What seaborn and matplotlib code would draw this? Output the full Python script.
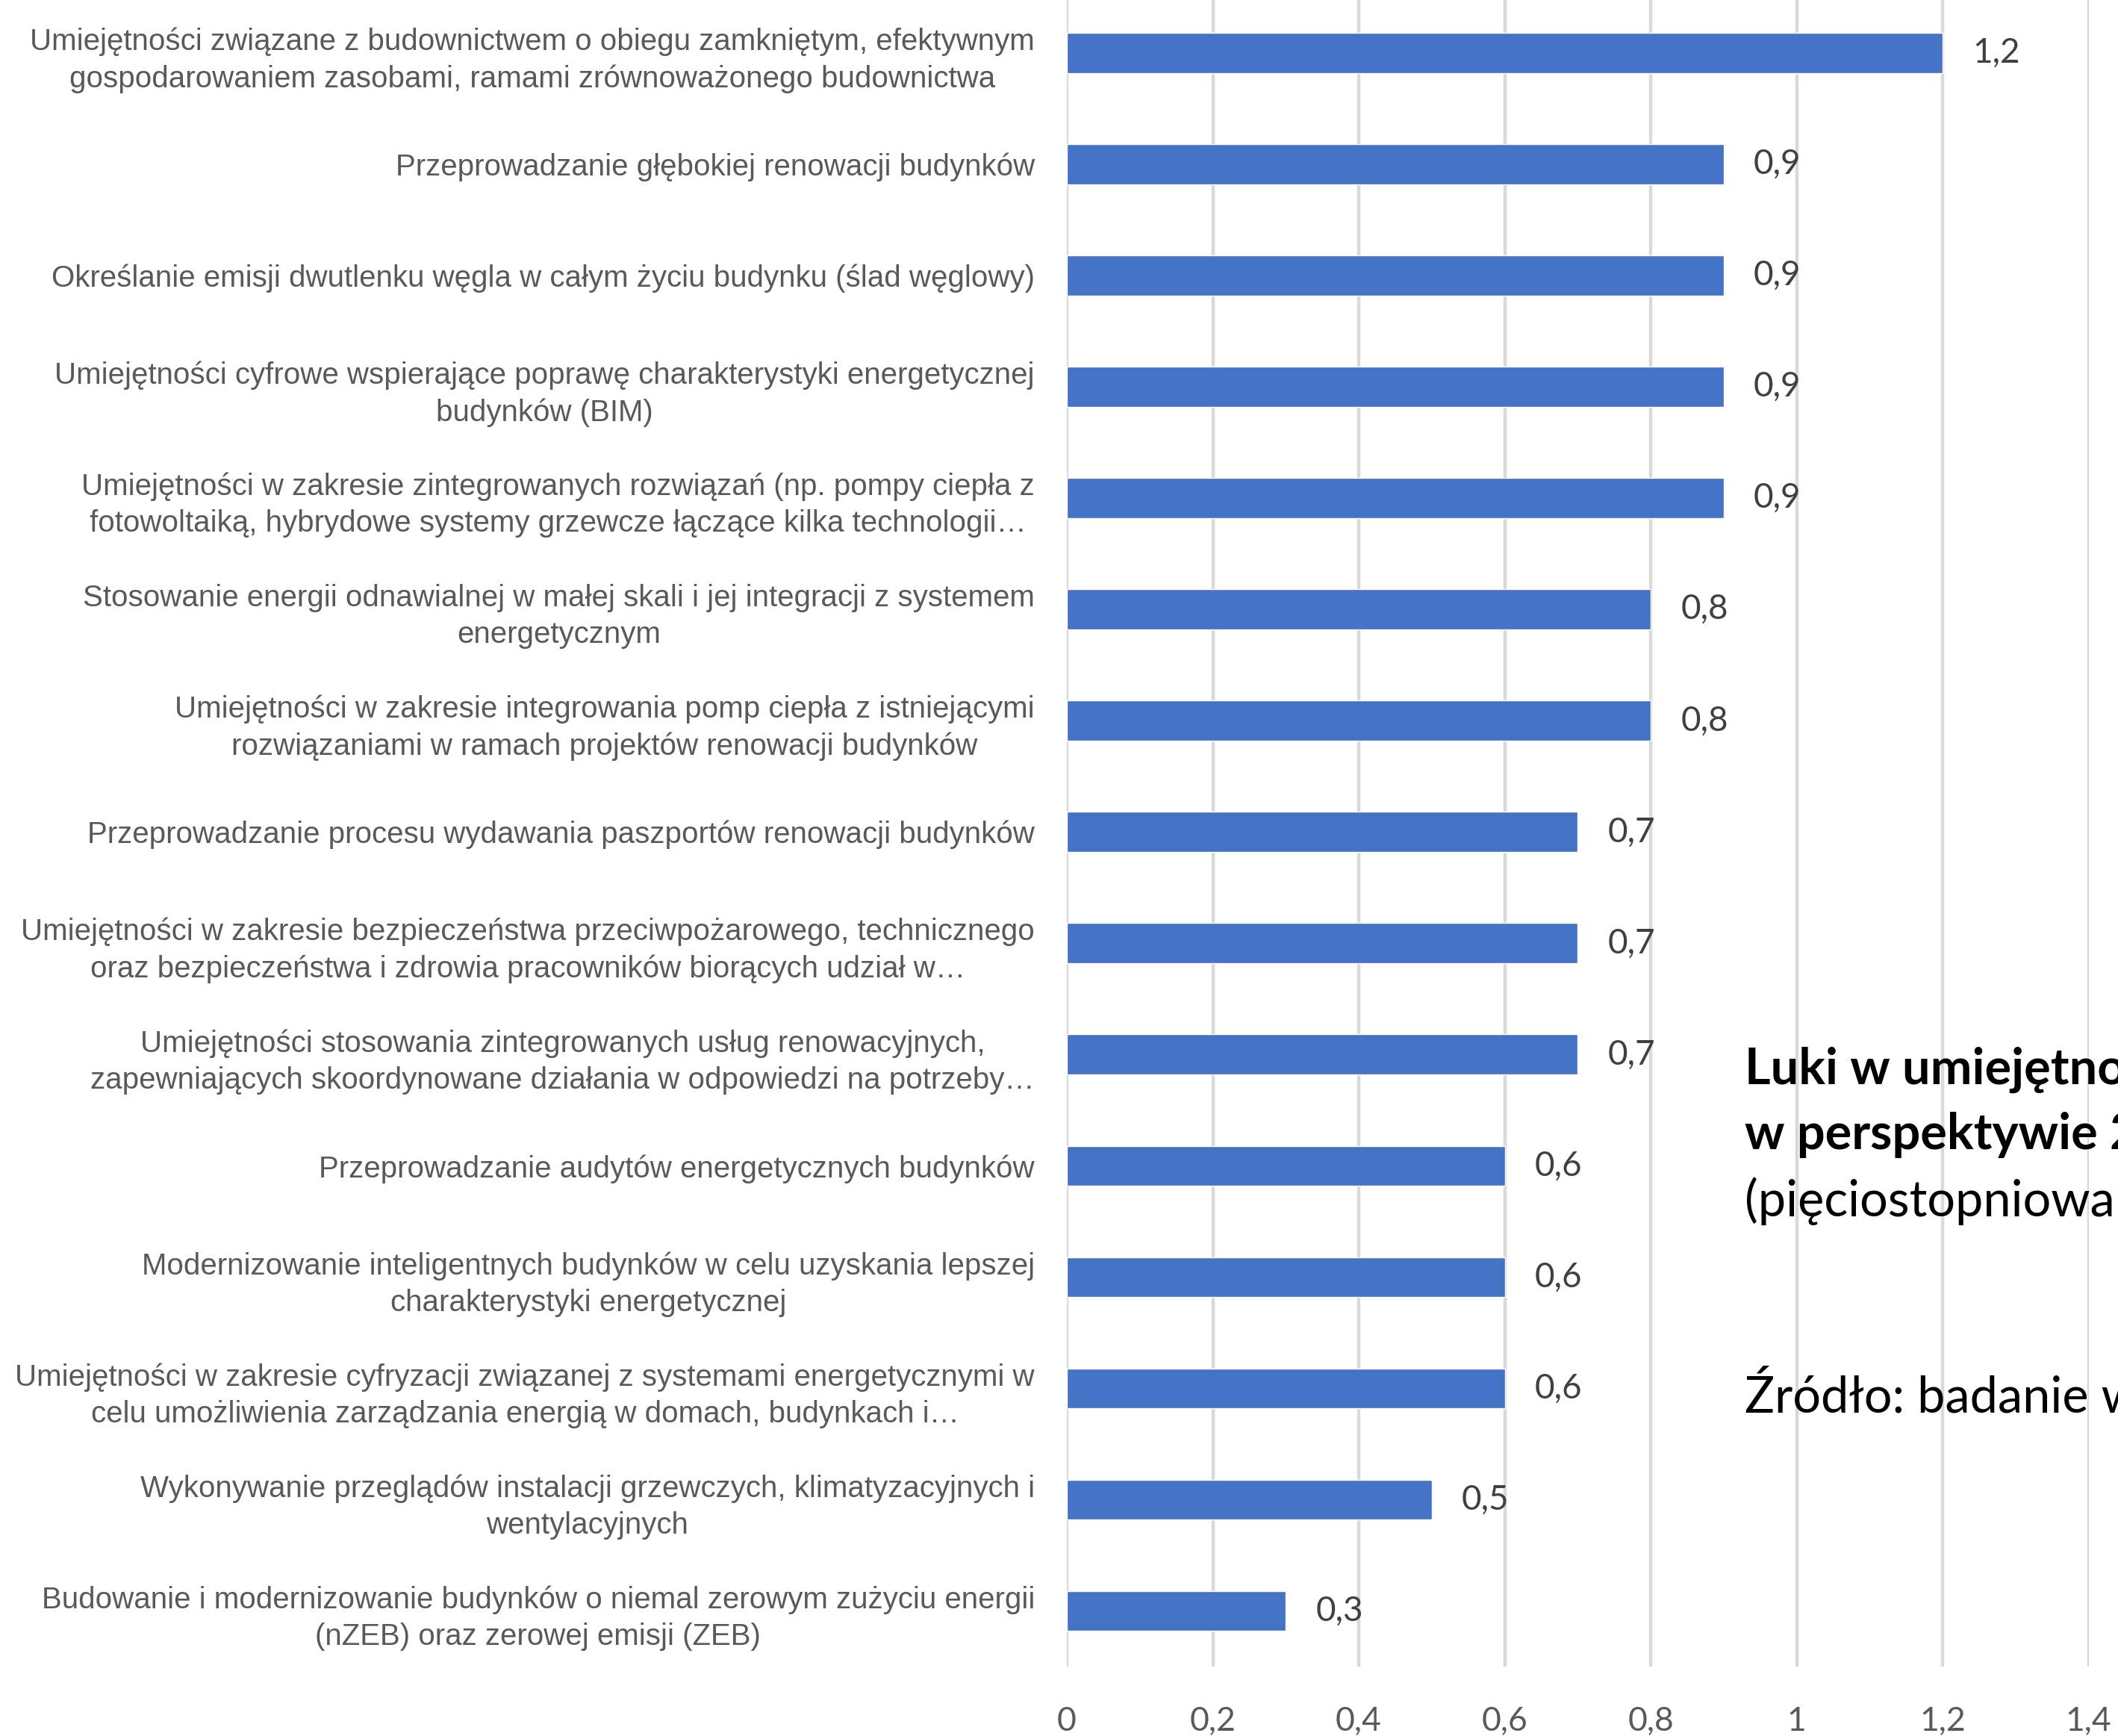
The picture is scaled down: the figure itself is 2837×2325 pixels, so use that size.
import matplotlib
matplotlib.use("Agg")
import matplotlib.pyplot as plt
import seaborn as sns
import pandas as pd

categories = [
    "Umiejętności związane z budownictwem o obiegu zamkniętym, efektywnym\ngospodarowaniem zasobami, ramami zrównoważonego budownictwa",
    "Przeprowadzanie głębokiej renowacji budynków",
    "Określanie emisji dwutlenku węgla w całym życiu budynku (ślad węglowy)",
    "Umiejętności cyfrowe wspierające poprawę charakterystyki energetycznej\nbudynków (BIM)",
    "Umiejętności w zakresie zintegrowanych rozwiązań (np. pompy ciepła z\nfotowoltaiką, hybrydowe systemy grzewcze łączące kilka technologii…",
    "Stosowanie energii odnawialnej w małej skali i jej integracji z systemem\nenergetycznym",
    "Umiejętności w zakresie integrowania pomp ciepła z istniejącymi\nrozwiązaniami w ramach projektów renowacji budynków",
    "Przeprowadzanie procesu wydawania paszportów renowacji budynków",
    "Umiejętności w zakresie bezpieczeństwa przeciwpożarowego, technicznego\noraz bezpieczeństwa i zdrowia pracowników biorących udział w…",
    "Umiejętności stosowania zintegrowanych usług renowacyjnych,\nzapewniających skoordynowane działania w odpowiedzi na potrzeby…",
    "Przeprowadzanie audytów energetycznych budynków",
    "Modernizowanie inteligentnych budynków w celu uzyskania lepszej\ncharakterystyki energetycznej",
    "Umiejętności w zakresie cyfryzacji związanej z systemami energetycznymi w\ncelu umożliwienia zarządzania energią w domach, budynkach i…",
    "Wykonywanie przeglądów instalacji grzewczych, klimatyzacyjnych i\nwentylacyjnych",
    "Budowanie i modernizowanie budynków o niemal zerowym zużyciu energii\n(nZEB) oraz zerowej emisji (ZEB)",
]
values = [1.2, 0.9, 0.9, 0.9, 0.9, 0.8, 0.8, 0.7, 0.7, 0.7, 0.6, 0.6, 0.6, 0.5, 0.3]
xticks = [0, 0.2, 0.4, 0.6, 0.8, 1.0, 1.2, 1.4]
xtick_labels = ["0", "0,2", "0,4", "0,6", "0,8", "1", "1,2", "1,4"]
title_lines = ["Luki w umiejętnościach", "w perspektywie 2030 r."]
subtitle = "(pięciostopniowa skala)"
source = "Źródło: badanie własne"

df = pd.DataFrame({"cat": categories, "val": values})

sns.set_theme(style="white")
plt.rcParams["font.family"] = ["Liberation Sans", "DejaVu Sans"]

W, H = 2837, 2325
fig = plt.figure(figsize=(W / 100, H / 100), dpi=100)
ax_left = 1429 / W
ax_w = (2797.5 - 1429) / W
ax_bottom = (H - 2232) / H
ax_h = (2232 + 3.5) / H
ax = fig.add_axes([ax_left, ax_bottom, ax_w, ax_h])

sns.barplot(data=df, x="val", y="cat", orient="h", color="#4472C4",
            width=0.36, saturation=1, ax=ax, zorder=3)

ax.set_xlim(0, 1.4)
ax.set_ylim(14.5, -0.5)
ax.set_xticks(xticks)
ax.set_xticklabels(xtick_labels)
ax.set_xlabel("")
ax.set_ylabel("")
for s in ax.spines.values():
    s.set_visible(False)
ax.grid(axis="x", color="#D9D9D9", linewidth=3.2, zorder=0)
ax.grid(axis="y", visible=False)
ax.tick_params(axis="x", length=0, pad=38, labelsize=32, colors="#595959")
ax.tick_params(axis="y", length=0, pad=31, labelsize=29, colors="#595959")
for lbl in ax.get_xticklabels():
    lbl.set_fontfamily(["Lato", "DejaVu Sans"])
for lbl in ax.get_yticklabels():
    lbl.set_multialignment("center")
    lbl.set_linespacing(1.37)

cont = ax.containers[0]
ax.bar_label(cont, labels=[f"{v:.1f}".replace(".", ",") for v in values],
             padding=29, fontsize=33, color="#404040",
             fontfamily=["Lato", "DejaVu Sans"])

tx = 2337 / W
fs = 48
fig.text(tx, 1 - 1452 / H, title_lines[0], fontsize=fs, fontweight="bold",
         family=["Lato", "DejaVu Sans"], color="black", va="baseline", ha="left")
fig.text(tx, 1 - 1539 / H, title_lines[1], fontsize=fs, fontweight="bold",
         family=["Lato", "DejaVu Sans"], color="black", va="baseline", ha="left")
fig.text(tx, 1 - 1629 / H, subtitle, fontsize=fs,
         family=["Lato", "DejaVu Sans"], color="black", va="baseline", ha="left")
fig.text(tx, 1 - 1891 / H, source, fontsize=fs,
         family=["Lato", "DejaVu Sans"], color="black", va="baseline", ha="left")

fig.savefig("out.png", dpi=100, facecolor="white")
